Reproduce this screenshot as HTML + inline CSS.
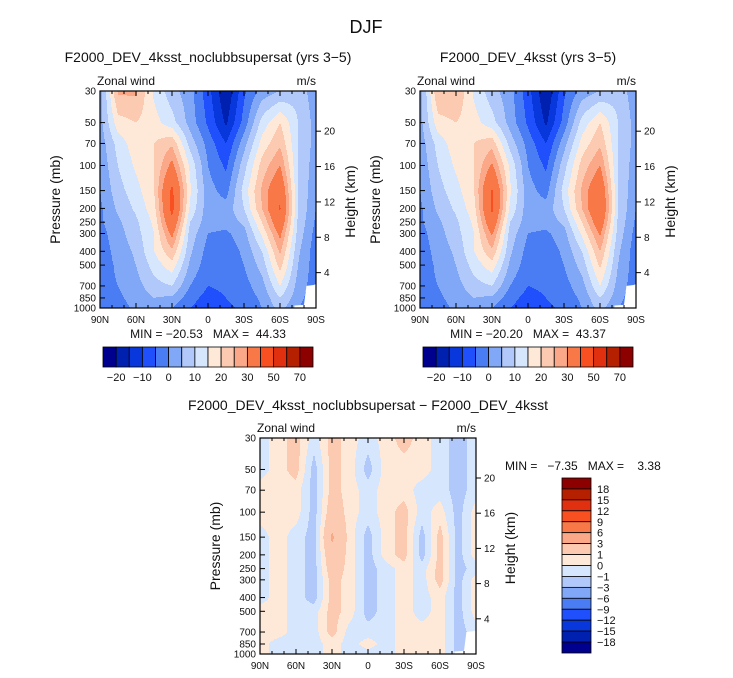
<!DOCTYPE html>
<html><head><meta charset="utf-8">
<style>
html,body{margin:0;padding:0;background:#fff;}
svg{display:block;font-family:"Liberation Sans",sans-serif;}
text{fill:#111;}
.pre{white-space:pre;}
</style></head>
<body>
<svg id="fig" width="733" height="678" viewBox="0 0 733 678">
<text x="366" y="33" font-size="18" text-anchor="middle" fill="#333">DJF</text>
</svg>
<script>
// ---- data ----
const levels = [30,50,70,100,150,200,250,300,400,500,700,850,1000];
const lats = [90,75,60,45,30,15,0,-15,-30,-45,-60,-75,-90];
const latTickLabels = ["90N","60N","30N","0","30S","60S","90S"];
const presTickLabels = [30,50,70,100,150,200,250,300,400,500,700,850,1000];
const heightTickLabels = [4,8,12,16,20];
const fullBounds = [-20,-15,-10,-5,0,5,10,15,20,25,30,40,50,60,70];
const fullBarLabels = ["-20","-10","0","10","20","30","50","70"];
const diffBounds = [-18,-15,-12,-9,-6,-3,-1,0,1,3,6,9,12,15,18];
const diffBarLabels = ["18","15","12","9","6","3","1","0","-1","-3","-6","-9","-12","-15","-18"];
const colors = ["#00008f","#0020b0","#0838dc","#2050fb","#4a7cf4","#80a8f6","#b0c8fa","#d6e6fc","#fee8d8","#fccab0","#faa888","#f87848","#f85020","#e03010","#b52000","#8c0000"];
// rows = levels, cols = lats
const windA = [
[2,26,26,14,7,2,-8,-20,-6,2,5,8,2],
[3,18,20,17,12,3,-6,-16,-3,12,20,10,3],
[2,12,18,20,24,8,-2,-10,3,17,24,10,3],
[1,10,16,20,32,14,0,-6,8,22,30,10,2],
[0,8,13,20,42,16,2,-2,12,26,38,10,1],
[-1,6,11,18,43,14,2,2,10,25,41,10,0],
[-1,4,9,16,38,10,2,2,6,20,37,9,-1],
[-2,3,8,15,32,8,0,-1,3,16,32,8,-2],
[-3,2,6,15,24,6,-2,-3,1,10,26,6,-3],
[-3,1,5,12,18,4,-3,-3,0,7,22,5,-3],
[-2,0,3,8,10,0,-5,-4,-2,3,15,3,-3],
[-3,-1,2,5,4,-3,-7,-5,-3,1,10,2,-4],
[-4,-2,1,3,0,-5,-8,-6,-4,0,7,0,-4]];
const windB = [
[2,25,25,14,7,2,-8,-20,-6,2,5,8,2],
[3,18,20,17,12,3,-6,-16,-3,12,20,10,3],
[2,12,18,20,23,8,-2,-10,3,17,24,10,3],
[1,10,16,20,31,14,0,-6,8,22,30,10,2],
[0,8,13,20,41,16,2,-2,12,26,38,10,1],
[-1,6,11,18,42,14,2,2,10,25,40,10,0],
[-1,4,9,16,37,10,2,2,6,20,36,9,-1],
[-2,3,8,15,31,8,0,-1,3,16,31,8,-2],
[-3,2,6,15,24,6,-2,-3,1,10,25,6,-3],
[-3,1,5,12,18,4,-3,-3,0,7,21,5,-3],
[-2,0,3,8,10,0,-5,-4,-2,3,15,3,-3],
[-3,-1,2,5,4,-3,-7,-5,-3,1,10,2,-4],
[-4,-2,1,3,0,-5,-8,-6,-4,0,7,0,-4]];
const windDiff = [
[-0.5,0.5,1.5,-0.5,1.5,0.5,-0.5,0.5,1.5,0.5,-0.5,-1.5,-0.5],
[-0.5,0.5,1.5,-1.5,1.5,0.5,-1.5,0.5,0.5,0.5,-0.5,-1.5,-0.5],
[0.5,0.5,0.5,-1.5,1.5,0.5,-0.5,0.5,0.5,-0.5,-0.5,-1.5,-0.5],
[0.5,0.5,0.5,-1.5,2,0.5,-0.5,0.5,1.5,-0.5,0.5,-1.5,0.5],
[-0.5,0.5,-0.5,-1.5,3.3,0.5,-1.5,0.5,1.5,-1.5,1.5,-1.5,0.5],
[-0.5,0.5,-0.5,-1.5,2.5,0.5,-1.5,0.5,1.5,-1.5,1.5,-1.5,0.5],
[-0.5,0.5,-0.5,-1.5,2,0.5,-1.5,-0.5,0.5,-0.5,1.5,-1.5,-0.5],
[-0.5,0.5,-0.5,-1.5,1.5,0.5,-1.5,-0.5,0.5,-0.5,1.5,-1.5,0.5],
[-0.5,0.5,-0.5,-1.5,1.5,0.5,-1.5,-0.5,0.5,-0.5,0.5,-1.5,0.5],
[0.5,0.5,-0.5,-0.5,1.5,0.5,-1.5,-0.5,0.5,-0.5,0.5,-1.5,0.5],
[0.5,0.5,-0.5,-0.5,1.5,-0.5,-0.5,-0.5,0.5,0.5,0.5,-1.5,-0.5],
[0.5,-0.5,-0.5,-0.5,0.5,-0.5,0.5,-0.5,0.5,0.5,0.5,-1.5,-0.5],
[0.5,-0.5,-0.5,-0.5,0.5,-0.5,-0.5,-0.5,0.5,0.5,0.5,-1.5,-0.5]];

const NS="http://www.w3.org/2000/svg";
const fig=document.getElementById('fig');
function el(tag,attrs,parent,txt){const e=document.createElementNS(NS,tag);for(const k in attrs)e.setAttribute(k,attrs[k]);if(txt!==undefined)e.textContent=txt;(parent||fig).appendChild(e);return e;}
const L=Math.log(1000/30);
function colorIdx(v,b){let i=0;while(i<b.length&&v>=b[i])i++;return i;}
function sample(grid,fr,fc){
  const r0=Math.min(Math.floor(fr),11),c0=Math.min(Math.floor(fc),11);
  const tr=fr-r0,tc=fc-c0;
  return grid[r0][c0]*(1-tr)*(1-tc)+grid[r0][c0+1]*(1-tr)*tc+grid[r0+1][c0]*tr*(1-tc)+grid[r0+1][c0+1]*tr*tc;
}
const lnLev=levels.map(p=>Math.log(p));
function levelFrac(p){const lp=Math.log(p);for(let i=0;i<12;i++){if(lp<=lnLev[i+1])return i+(lp-lnLev[i])/(lnLev[i+1]-lnLev[i]);}return 12;}

function panel(name,x0,y0,w,h,grid,bounds,title,minmax){
  const g=el('g',{},fig);
  
  
  const yOf=p=>y0+h*Math.log(p/30)/L;
  const xOf=lat=>x0+w*(90-lat)/180;
  const fg=el('g',{'shape-rendering':'crispEdges'},g);
  
  
  for(let py=0;py<h;py++){
    const p=30*Math.exp((py+0.5)/h*L);
    const fr=levelFrac(p);
    let start=0,cur=-1;
    for(let px=0;px<=w;px++){
      let ci=-2;
      if(px<w){const lat=90-(px+0.5)/w*180;const fc=(90-lat)/15;ci=colorIdx(sample(grid,fr,fc),bounds);}
      if(ci!==cur){
        if(cur>=0){const r=el('rect',{x:x0+start,y:y0+py,width:px-start,height:1,fill:colors[cur]},fg);
          
          }
        cur=ci;start=px;
      }
    }
  }
  const m=el('path',{d:`M${xOf(-72)},${yOf(1000)} L${xOf(-72)},${yOf(960)} L${xOf(-80)},${yOf(950)} L${xOf(-82)},${yOf(700)} L${xOf(-88)},${yOf(690)} L${xOf(-90)},${yOf(680)} L${xOf(-90)},${yOf(1000)}Z`,fill:'#fff'},g);
  
  
  el('rect',{x:x0,y:y0,width:w,height:h,fill:'none',stroke:'#000','stroke-width':1.2},g);
  presTickLabels.forEach(p=>{const y=yOf(p);
    el('line',{x1:x0,y1:y,x2:x0+5,y2:y,stroke:'#000'},g);
    const t=el('text',{x:x0-4,y:y+3.5,'font-size':10,'text-anchor':'end'},g,String(p));
    
    });
  heightTickLabels.forEach(z=>{const p=1000*Math.exp(-z/7);const y=yOf(p);
    el('line',{x1:x0+w,y1:y,x2:x0+w+5,y2:y,stroke:'#000'},g);
    const t=el('text',{x:x0+w+8,y:y+3.5,'font-size':10},g,String(z));
    
    });
  for(let lat=90;lat>=-90;lat-=10){const x=xOf(lat);const maj=lat%30===0;const l=maj?5:3;
    el('line',{x1:x,y1:y0+h,x2:x,y2:y0+h-l,stroke:'#000'},g);
    el('line',{x1:x,y1:y0,x2:x,y2:y0+l,stroke:'#000'},g);}
  latTickLabels.forEach((s,i)=>{const t=el('text',{x:x0+i*w/6,y:y0+h+15,'font-size':10,'text-anchor':'middle'},g,s);
    
    });
  const t1=el('text',{x:x0-3,y:y0-6,'font-size':12},g,'Zonal wind');
  
  const t2=el('text',{x:x0+w,y:y0-6,'font-size':12,'text-anchor':'end'},g,'m/s');
  
  const t3=el('text',{x:x0-40,y:y0+h/2,'font-size':14,'text-anchor':'middle',transform:`rotate(-90 ${x0-40} ${y0+h/2})`,fill:'#333'},g,'Pressure (mb)');
  
  const t4=el('text',{x:x0+w+39,y:y0+h/2+2,'font-size':14,'text-anchor':'middle',transform:`rotate(-90 ${x0+w+39} ${y0+h/2+2})`,fill:'#333'},g,'Height (km)');
  
  const t5=el('text',{x:x0+w/2,y:title.y,'font-size':14,'text-anchor':'middle',fill:'#222'},g,title.text);
  
  const t6=el('text',{x:minmax.x,y:minmax.y,'font-size':12,'text-anchor':minmax.anchor,'class':'pre'},g,minmax.text);
  
}
function hbar(name,x0,y0,w,h){
  const g=el('g',{},fig);
  
  
  const bw=w/colors.length;
  colors.forEach((c,i)=>{const r=el('rect',{x:x0+i*bw,y:y0,width:bw,height:h,fill:c,stroke:'#000','stroke-width':0.8},g);
    });
  fullBarLabels.forEach((s,i)=>{const t=el('text',{x:x0+bw*(1+2*i),y:y0+h+14,'font-size':11,'text-anchor':'middle'},g,s.replace('-','\u2212'));
    });
}
function vbar(name,x0,y0,w,h){
  const g=el('g',{},fig);
  
  
  const bh=h/colors.length;
  colors.slice().reverse().forEach((c,i)=>{const r=el('rect',{x:x0,y:y0+i*bh,width:w,height:bh,fill:c,stroke:'#000','stroke-width':0.8},g);
    });
  diffBarLabels.forEach((s,i)=>{const t=el('text',{x:x0+w+6,y:y0+bh*(i+1)+4,'font-size':11},g,s.replace('-','\u2212'));
    });
}
panel('panel-noclubbsupersat',100,91,216,217,windA,fullBounds,{text:'F2000_DEV_4ksst_noclubbsupersat (yrs 3\u22125)',y:62},{text:'MIN = \u221220.53   MAX =  44.33',x:208,y:338,anchor:'middle'});
hbar('colorbar-top-left',103,347,210,20);
panel('panel-4ksst',420,91,216,217,windB,fullBounds,{text:'F2000_DEV_4ksst (yrs 3\u22125)',y:62},{text:'MIN = \u221220.20   MAX =  43.37',x:528,y:338,anchor:'middle'});
hbar('colorbar-top-right',423,347,210,20);
panel('panel-difference',260,438,216,216,windDiff,diffBounds,{text:'F2000_DEV_4ksst_noclubbsupersat \u2212 F2000_DEV_4ksst',y:410},{text:'MIN =   \u22127.35   MAX =    3.38',x:505,y:470,anchor:'start'});
vbar('colorbar-difference',562,478,29,175);
</script>
</body></html>
